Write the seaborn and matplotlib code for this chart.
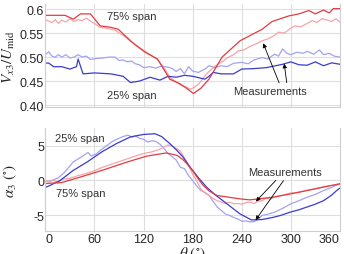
import numpy as np
import pandas as pd
import seaborn as sns
import matplotlib.pyplot as plt

# top panel: V_x3/U_mid vs theta
th_v_mod75 = [0, 10, 24, 34, 43, 55, 67, 80, 89, 104, 111, 122, 137, 152, 165, 175, 181, 190, 200,
              216, 238, 265, 277, 298, 310, 322, 330, 340, 347, 352, 360]
v_mod75 = [0.587, 0.587, 0.587, 0.579, 0.590, 0.590, 0.565, 0.562, 0.558, 0.534, 0.524, 0.510, 0.496,
           0.454, 0.444, 0.432, 0.424, 0.435, 0.454, 0.500, 0.534, 0.558, 0.574, 0.586, 0.590, 0.597,
           0.590, 0.598, 0.592, 0.601, 0.601]

th_v_exp75 = [0, 4, 8, 12, 16, 20, 25, 30, 35, 40, 45, 50, 55, 60, 67, 75, 85, 95, 105, 115, 122, 130,
              137, 145, 152, 160, 167, 172, 177, 182, 188, 195, 200, 208, 216, 222, 230, 236, 243, 250,
              258, 265, 272, 280, 285, 292, 300, 305, 312, 320, 326, 332, 338, 345, 350, 355, 360]
v_exp75 = [0.578, 0.575, 0.572, 0.578, 0.570, 0.577, 0.573, 0.580, 0.574, 0.578, 0.576, 0.581, 0.575,
           0.570, 0.562, 0.560, 0.556, 0.545, 0.532, 0.520, 0.512, 0.503, 0.495, 0.478, 0.458, 0.448,
           0.440, 0.438, 0.433, 0.437, 0.445, 0.461, 0.470, 0.482, 0.490, 0.498, 0.505, 0.513, 0.515,
           0.522, 0.528, 0.534, 0.538, 0.545, 0.552, 0.550, 0.560, 0.565, 0.563, 0.570, 0.576, 0.572,
           0.580, 0.577, 0.574, 0.580, 0.573]

th_v_mod25 = [0, 4, 10, 20, 30, 38, 40, 46, 60, 80, 95, 104, 115, 128, 140, 150, 160, 170, 180, 195,
              200, 205, 215, 230, 240, 255, 270, 290, 300, 310, 320, 330, 340, 350, 360]
v_mod25 = [0.4875, 0.4875, 0.480, 0.480, 0.475, 0.480, 0.496, 0.465, 0.467, 0.465, 0.460, 0.447, 0.450,
           0.458, 0.452, 0.460, 0.458, 0.462, 0.460, 0.454, 0.460, 0.468, 0.465, 0.465, 0.475, 0.476,
           0.478, 0.485, 0.490, 0.484, 0.483, 0.490, 0.482, 0.488, 0.485]

th_v_exp25 = [0, 4, 8, 12, 16, 20, 25, 30, 35, 40, 45, 50, 55, 62, 70, 78, 85, 90, 95, 100, 105, 110,
              115, 120, 128, 135, 142, 150, 155, 160, 165, 170, 175, 180, 187, 195, 200, 207, 215, 222,
              230, 240, 248, 255, 265, 272, 280, 285, 290, 295, 300, 307, 315, 320, 328, 335, 340, 347,
              353, 360]
v_exp25 = [0.505, 0.511, 0.502, 0.500, 0.505, 0.500, 0.505, 0.498, 0.500, 0.505, 0.500, 0.502, 0.495,
           0.497, 0.498, 0.500, 0.500, 0.493, 0.494, 0.490, 0.492, 0.486, 0.484, 0.478, 0.480, 0.477,
           0.481, 0.479, 0.476, 0.470, 0.476, 0.465, 0.480, 0.471, 0.468, 0.475, 0.482, 0.478, 0.482,
           0.480, 0.487, 0.489, 0.486, 0.494, 0.499, 0.496, 0.506, 0.502, 0.517, 0.508, 0.505, 0.510,
           0.508, 0.512, 0.506, 0.515, 0.505, 0.508, 0.502, 0.500]

# bottom panel: alpha_3 vs theta
th_a_mod25 = [0, 4, 18, 34, 51, 69, 87, 104, 120, 134, 142, 152, 160, 168, 177, 187, 197, 207, 217,
              228, 238, 252, 265, 278, 288, 299, 310, 320, 330, 340, 350, 356, 360]
a_mod25 = [-1.0, -0.8, 0.0, 1.44, 2.65, 4.1, 5.3, 6.25, 6.6, 6.7, 6.3, 5.3, 4.4, 3.4, 1.9, 0.4, -0.95,
           -2.0, -2.9, -3.9, -4.8, -5.66, -5.6, -5.3, -5.0, -4.55, -4.2, -3.8, -3.4, -2.9, -2.1, -1.45,
           -1.1]

th_a_mod75 = [0, 4, 20, 43, 69, 100, 124, 148, 161, 168, 173, 180, 187, 193, 200, 210, 238, 250, 278,
              300, 320, 340, 360]
a_mod75 = [-0.45, -0.4, -0.3, 0.5, 1.44, 2.65, 3.5, 3.95, 3.6, 3.0, 2.4, 1.4, 0.2, -0.7, -1.5, -2.16,
           -2.64, -2.78, -2.4, -1.92, -1.44, -0.95, -0.48]

th_a_exp25 = [0, 4, 10, 16, 22, 28, 34, 40, 47, 52, 56, 62, 68, 75, 82, 89, 95, 101, 106, 110, 116,
              120, 125, 130, 135, 140, 145, 150, 155, 160, 165, 170, 175, 180, 185, 190, 195, 200, 205,
              210, 215, 220, 225, 230, 235, 240, 245, 250, 255, 260, 265, 270, 280, 290, 300, 310, 320,
              330, 340, 350, 355, 360]
a_exp25 = [-0.1, -0.1, 0.1, 0.4, 1.0, 1.8, 2.65, 3.1, 3.6, 4.0, 3.5, 3.8, 4.4, 5.0, 5.6, 6.0, 6.3, 6.5,
           6.2, 6.4, 6.0, 5.9, 5.5, 5.7, 5.6, 5.2, 4.6, 3.85, 3.4, 2.9, 1.9, 1.7, 0.7, 0.0, -0.8, -1.45,
           -1.7, -2.15, -3.0, -3.8, -4.3, -4.8, -5.0, -5.3, -5.5, -5.85, -5.8, -5.95, -5.9, -5.6, -5.0,
           -4.9, -4.55, -4.0, -3.35, -2.9, -2.4, -2.0, -1.45, -1.0, -0.7, -0.5]

th_a_exp75 = [0, 5, 10, 15, 20, 30, 40, 50, 60, 70, 80, 90, 100, 110, 120, 130, 138, 145, 150, 155,
              160, 165, 170, 175, 180, 185, 190, 195, 200, 205, 210, 215, 220, 225, 230, 235, 240, 245,
              250, 255, 260, 265, 270, 275, 280, 290, 300, 310, 320, 330, 340, 350, 360]
a_exp75 = [0.0, -0.2, 0.1, -0.4, 0.2, 0.3, 0.7, 1.0, 1.4, 1.9, 2.3, 2.7, 3.1, 3.5, 3.85, 4.1, 4.4, 4.8,
           5.1, 4.9, 4.6, 4.2, 3.2, 2.2, 0.9, -0.1, -1.2, -1.8, -2.15, -2.6, -2.9, -3.1, -3.3, -3.1,
           -3.35, -3.3, -3.4, -3.2, -3.1, -3.3, -3.0, -2.9, -2.5, -2.7, -2.4, -2.1, -1.8, -1.7, -1.4,
           -1.2, -0.9, -0.7, -0.5]

x_ticks = [0, 60, 120, 180, 240, 300, 360]

RED = "#e23c3f"
LRED = "#f5a4a9"
BLUE = "#3b3bcf"
LBLUE = "#a3a3f2"

sns.set_style("whitegrid", {"grid.color": "#dedede", "axes.edgecolor": "#cfcfcf"})
plt.rcParams["font.family"] = ["Liberation Sans", "DejaVu Sans"]
plt.rcParams["mathtext.fontset"] = "stix"

fig = plt.figure(figsize=(3.44, 2.55), dpi=100)
ax1 = fig.add_axes([0.132, 0.575, 0.856, 0.405])
ax2 = fig.add_axes([0.132, 0.089, 0.856, 0.405])

lw = 0.9
sns.lineplot(x=th_v_exp75, y=v_exp75, color=LRED, lw=lw, ax=ax1)
sns.lineplot(x=th_v_exp25, y=v_exp25, color=LBLUE, lw=lw, ax=ax1)
sns.lineplot(x=th_v_mod25, y=v_mod25, color=BLUE, lw=lw, ax=ax1)
sns.lineplot(x=th_v_mod75, y=v_mod75, color=RED, lw=lw, ax=ax1)

sns.lineplot(x=th_a_exp25, y=a_exp25, color=LBLUE, lw=lw, ax=ax2)
sns.lineplot(x=th_a_exp75, y=a_exp75, color=LRED, lw=lw, ax=ax2)
sns.lineplot(x=th_a_mod25, y=a_mod25, color=BLUE, lw=lw, ax=ax2)
sns.lineplot(x=th_a_mod75, y=a_mod75, color=RED, lw=lw, ax=ax2)

for ax in (ax1, ax2):
    ax.set_xlim(0, 360)
    ax.set_xticks(x_ticks)
    ax.spines["top"].set_visible(False)
    ax.tick_params(labelsize=9, pad=1, length=0)
    ax.grid(True, lw=0.8)

ax1.set_xticklabels([])
ax1.set_ylim(0.3952, 0.6104)
ax1.set_yticks([0.40, 0.45, 0.50, 0.55, 0.60])
ax1.set_yticklabels(["0.40", "0.45", "0.50", "0.55", "0.6"])
ax1.set_ylabel(r"$V_{x3}/U_{\rm mid}$", fontsize=11, labelpad=2)

ax2.set_ylim(-7.29, 7.52)
ax2.set_yticks([-5, 0, 5])
ax2.set_yticklabels(["-5", "0", "5"])
ax2.set_xticklabels([str(t) for t in x_ticks])
xt = ax2.get_xticklabels()
xt[-1].set_horizontalalignment("right")
xt[0].set_horizontalalignment("left")
ax2.set_ylabel(r"$\alpha_3\ (^{\circ})$", fontsize=11, labelpad=10)
ax2.set_xlabel(r"$\theta\ (^{\circ})$", fontsize=11, labelpad=0)

txt = dict(fontsize=8, color="#333333", ha="center", va="center")
ax1.text(106, 0.585, "75% span", **txt)
ax1.text(106, 0.4215, "25% span", **txt)
ax1.text(275, 0.429, "Measurements", **txt)
arr = dict(arrowstyle="-|>", color="black", lw=0.6, mutation_scale=6)
ax1.annotate("", xy=(265, 0.534), xytext=(287, 0.441), arrowprops=arr)
ax1.annotate("", xy=(291.5, 0.492), xytext=(295.5, 0.441), arrowprops=arr)

ax2.text(42.6, 6.15, "25% span", **txt)
ax2.text(42.6, -1.82, "75% span", **txt)
ax2.text(293, 1.25, "Measurements", **txt)
ax2.annotate("", xy=(255, -3.3), xytext=(284, 0.3), arrowprops=arr)
ax2.annotate("", xy=(255, -6.0), xytext=(293, 0.3), arrowprops=arr)

fig.savefig("out.png", dpi=100)
